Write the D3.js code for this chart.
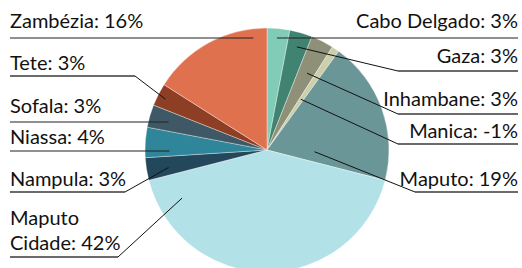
<!DOCTYPE html>
<html>
<head>
<meta charset="utf-8">
<script src="https://cdn.jsdelivr.net/npm/d3@7/dist/d3.min.js"></script>
<style>
  html, body { margin: 0; padding: 0; background: #fff; }
  svg { display: block; }
  text { font-family: Lato, "Open Sans", sans-serif; font-size: 20px; fill: #111; }
</style>
</head>
<body>
<svg id="chart" width="522" height="268"></svg>
<script>
// ---- data ----
const categories = ["Cabo Delgado", "Gaza", "Inhambane", "Manica", "Maputo", "Maputo Cidade",
                    "Nampula", "Niassa", "Sofala", "Tete", "Zambézia"];
const values = [3, 3, 3, -1, 19, 42, 3, 4, 3, 3, 16];
const labelTexts = ["Cabo Delgado: 3%", "Gaza: 3%", "Inhambane: 3%", "Manica: -1%", "Maputo: 19%",
                    "Maputo Cidade: 42%", "Nampula: 3%", "Niassa: 4%", "Sofala: 3%", "Tete: 3%", "Zambézia: 16%"];
const colors = ["#80ccb7", "#3f8370", "#8e9077", "#cbcfab", "#6b9697", "#b2e1e8",
                "#23475b", "#2f8599", "#3e5866", "#8e3e24", "#e0714f"];

// ---- layout (label placement) ----
const width = 522, height = 268;
const cx = 267, cy = 150, R = 122;
const labelLayout = [
  { t: 0.47, rf: 0.92, side: "right", base: [28],       lineY: 38,  elbowX: null },
  { t: 0.50, rf: 0.88, side: "right", base: [63],       lineY: 71,  elbowX: 398 },
  { t: 0.55, rf: 0.71, side: "right", base: [106],      lineY: 114, elbowX: 398 },
  { t: 0.36, rf: 0.50, side: "right", base: [138],      lineY: 144, elbowX: 398 },
  { t: 0.82, rf: 0.39, side: "right", base: [186],      lineY: 192, elbowX: 415 },
  { t: 0.90, rf: 0.80, side: "left",  base: [225, 250], lineY: 257, elbowX: 118 },
  { t: 0.40, rf: 0.82, side: "left",  base: [186],      lineY: 192, elbowX: 125 },
  { t: 0.29, rf: 0.80, side: "left",  base: [144],      lineY: 151, elbowX: null },
  { t: 0.48, rf: 0.84, side: "left",  base: [113],      lineY: 122, elbowX: null },
  { t: 0.46, rf: 0.93, side: "left",  base: [70],       lineY: 76,  elbowX: 135 },
  { t: 0.88, rf: 0.93, side: "left",  base: [28],       lineY: 38,  elbowX: null }
];
const leftX = 10, rightX = 518;

const svg = d3.select("#chart");
const data = categories.map((c, i) => ({ name: c, value: values[i], label: labelTexts[i], color: colors[i], lay: labelLayout[i] }));

const pie = d3.pie().sort(null).value(d => Math.abs(d.value));
const arc = d3.arc().innerRadius(0).outerRadius(R);
const arcs = pie(data);

const g = svg.append("g").attr("transform", `translate(${cx},${cy})`);
g.selectAll("path.slice").data(arcs).join("path")
  .attr("class", "slice")
  .attr("d", arc)
  .attr("fill", d => d.data.color)
  .attr("stroke", "#ffffff")
  .attr("stroke-opacity", 0.6)
  .attr("stroke-width", 0.6);

arcs.forEach(a => {
  const L = a.data.lay;
  const ang = a.startAngle + L.t * (a.endAngle - a.startAngle);
  const r = R * L.rf;
  const p = d3.arc().innerRadius(r).outerRadius(r).startAngle(ang).endAngle(ang).centroid();
  const ax = cx + p[0], ay = cy + p[1];
  const lines = a.data.name === "Maputo Cidade" ? ["Maputo", "Cidade: 42%"] : [a.data.label];
  const endX = L.side === "right" ? rightX : leftX;

  if (L.elbowX !== null) {
    svg.append("line")
      .attr("x1", ax).attr("y1", ay)
      .attr("x2", L.elbowX).attr("y2", L.lineY)
      .attr("stroke", "#111").attr("stroke-width", 1);
    svg.append("line")
      .attr("x1", L.elbowX).attr("y1", L.lineY)
      .attr("x2", endX).attr("y2", L.lineY)
      .attr("stroke", "#3a3a3a").attr("stroke-width", 1.3);
  } else {
    svg.append("line")
      .attr("x1", ax).attr("y1", L.lineY)
      .attr("x2", endX).attr("y2", L.lineY)
      .attr("stroke", "#222").attr("stroke-width", 1.2);
  }

  lines.forEach((txt, i) => {
    svg.append("text")
      .attr("x", endX)
      .attr("y", L.base[i])
      .attr("text-anchor", L.side === "right" ? "end" : "start")
      .text(txt);
  });
});
</script>
</body>
</html>
